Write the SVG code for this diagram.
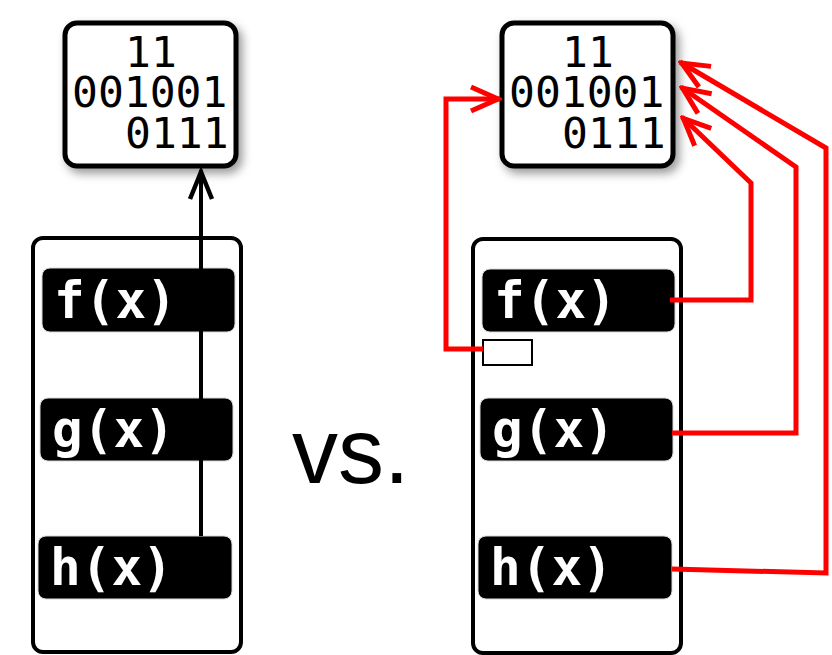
<svg xmlns="http://www.w3.org/2000/svg" width="832" height="655" viewBox="0 0 832 655">
  <defs>
    <filter id="shadow" x="-20%" y="-20%" width="150%" height="150%">
      <feDropShadow dx="4" dy="5" stdDeviation="5" flood-color="#000" flood-opacity="0.4"/>
    </filter>
    <marker id="head-red" viewBox="-32 -16 36 32" refX="2" refY="0" markerWidth="36" markerHeight="32" markerUnits="userSpaceOnUse" orient="auto">
      <path d="M-27,-12 L0,0 L-27,12" fill="none" stroke="#ff0000" stroke-width="5"/>
    </marker>
    <marker id="head-black" viewBox="-32 -16 36 32" refX="2" refY="0" markerWidth="36" markerHeight="32" markerUnits="userSpaceOnUse" orient="auto">
      <path d="M-27,-11 L0,0 L-27,11" fill="none" stroke="#000" stroke-width="4.5"/>
    </marker>
  </defs>
  <style>
    .data { fill: #fff; stroke: #000; stroke-width: 5; }
    .bits { font-family: "DejaVu Sans Mono", monospace; font-size: 43px; fill: #000; }
    .panel { fill: #fff; stroke: #000; stroke-width: 4; }
    .fn { fill: #000; stroke: #d8d8d8; stroke-width: 1; }
    .fnlabel { font-family: "DejaVu Sans Mono", monospace; font-weight: bold; font-size: 51px; fill: #fff; }
    .slot { fill: #fff; stroke: #000; stroke-width: 2; }
    .red { fill: none; stroke: #ff0000; stroke-width: 5; marker-end: url(#head-red); }
    .blk { fill: none; stroke: #000; stroke-width: 4; marker-end: url(#head-black); }
    .vs { font-family: "Liberation Sans", Arial, sans-serif; font-size: 92px; fill: #000; }
  </style>

  <!-- left: a single shared data block -->
  <g id="data-left" filter="url(#shadow)">
    <rect class="data" x="65" y="23" width="171" height="143" rx="12"/>
  </g>
  <g id="data-left-text">
    <text class="bits" x="125" y="67">11</text>
    <text class="bits" x="72" y="107">001001</text>
    <text class="bits" x="125" y="148">0111</text>
  </g>

  <g id="panel-left">
    <rect class="panel" x="33" y="238" width="208" height="414" rx="10"/>
  </g>
  <g id="f-left">
    <rect class="fn" x="42" y="268" width="193" height="64" rx="8"/>
    <text class="fnlabel" x="54" y="318">f(x)</text>
  </g>
  <g id="g-left">
    <rect class="fn" x="40" y="398" width="193" height="63" rx="8"/>
    <text class="fnlabel" x="52" y="447">g(x)</text>
  </g>
  <g id="h-left">
    <rect class="fn" x="38" y="536" width="194" height="63" rx="8"/>
    <text class="fnlabel" x="50" y="585">h(x)</text>
  </g>

  <g id="vs">
    <text class="vs" x="292" y="483">vs.</text>
  </g>

  <!-- right: the same data reached from several places -->
  <g id="data-right" filter="url(#shadow)">
    <rect class="data" x="502" y="23" width="171" height="143" rx="12"/>
  </g>
  <g id="data-right-text">
    <text class="bits" x="562" y="67">11</text>
    <text class="bits" x="509" y="107">001001</text>
    <text class="bits" x="562" y="148">0111</text>
  </g>

  <g id="panel-right">
    <rect class="panel" x="473" y="239" width="208" height="414" rx="10"/>
  </g>
  <g id="f-right">
    <rect class="fn" x="482" y="269" width="193" height="63" rx="8"/>
    <text class="fnlabel" x="494" y="318">f(x)</text>
  </g>
  <g id="slot-right">
    <rect class="slot" x="483" y="340" width="49" height="25"/>
  </g>
  <g id="g-right">
    <rect class="fn" x="480" y="398" width="193" height="63" rx="8"/>
    <text class="fnlabel" x="492" y="447">g(x)</text>
  </g>
  <g id="h-right">
    <rect class="fn" x="478" y="536" width="194" height="63" rx="8"/>
    <text class="fnlabel" x="490" y="585">h(x)</text>
  </g>

  <g id="connectors">
    <path class="blk" d="M201,536 V170"/>
    <path class="red" d="M483,349 H446 V99 H500"/>
    <path class="red" d="M670,300 H751 V183 L682,117"/>
    <path class="red" d="M672,433 H796 V167 L681,87"/>
    <path class="red" d="M672,569 L826,573 V148 L680,62"/>
  </g>
</svg>
